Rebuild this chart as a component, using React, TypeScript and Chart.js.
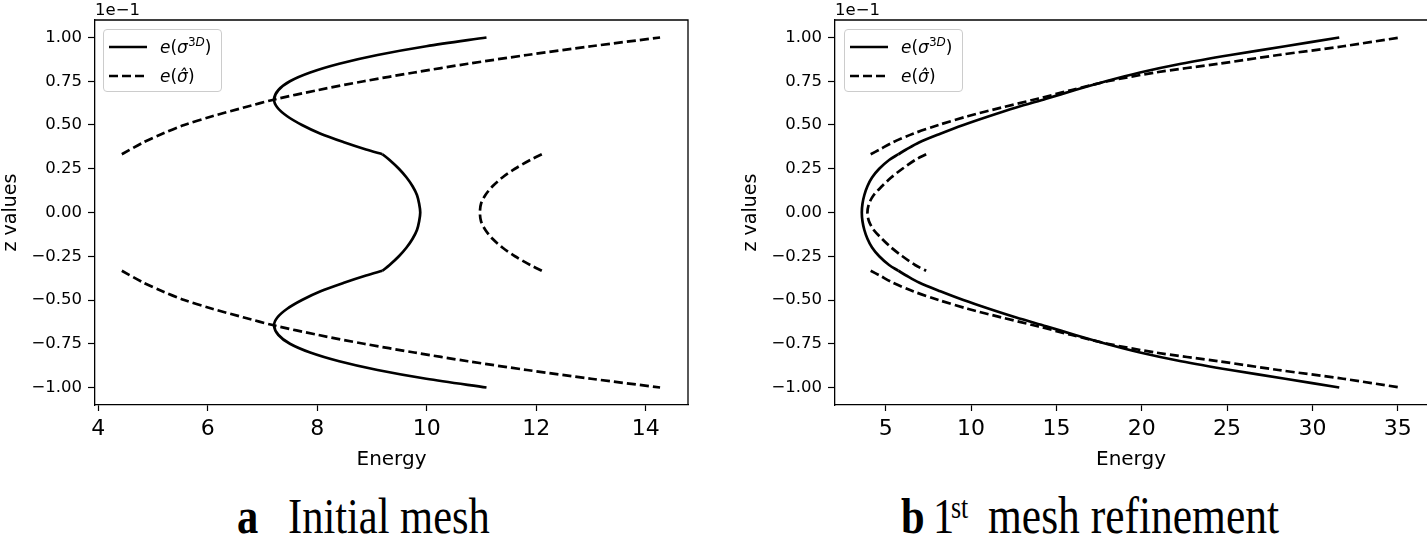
import React, { useEffect, useRef } from 'react';
import { Chart, registerables } from 'chart.js';

Chart.register(...registerables);

// ---------- Panel a: initial mesh (z values in units of 1e-1, Energy) ----------
const aSolidUpperZ = [0.333, 0.36, 0.40, 0.45, 0.50, 0.55, 0.60, 0.646, 0.70, 0.75, 0.80, 0.85, 0.90, 0.95, 1.00];
const aSolidUpperE = [9.19, 8.89, 8.50, 8.06, 7.72, 7.45, 7.27, 7.21, 7.29, 7.50, 7.87, 8.40, 9.10, 9.99, 11.09];
const aSolidMidZ = [0.333, 0.30, 0.25, 0.20, 0.15, 0.10, 0.05, 0, -0.05, -0.10, -0.15, -0.20, -0.25, -0.30, -0.333];
const aSolidMidE = [9.19, 9.32, 9.49, 9.63, 9.74, 9.82, 9.86, 9.88, 9.86, 9.82, 9.74, 9.63, 9.49, 9.32, 9.19];
const aSolidLowerZ = [-0.333, -0.36, -0.40, -0.45, -0.50, -0.55, -0.60, -0.646, -0.70, -0.75, -0.80, -0.85, -0.90, -0.95, -1.00];
const aSolidLowerE = [9.19, 8.89, 8.50, 8.06, 7.72, 7.45, 7.27, 7.21, 7.29, 7.50, 7.87, 8.40, 9.10, 9.99, 11.09];

const aDashUpperZ = [0.333, 0.40, 0.45, 0.50, 0.55, 0.60, 0.646, 0.70, 0.75, 0.80, 0.85, 0.90, 0.95, 1.00];
const aDashUpperE = [4.43, 4.82, 5.17, 5.57, 6.08, 6.66, 7.22, 8.02, 8.85, 9.77, 10.75, 11.83, 13.0, 14.26];
const aDashMidZ = [0.333, 0.30, 0.25, 0.20, 0.15, 0.10, 0.05, 0, -0.05, -0.10, -0.15, -0.20, -0.25, -0.30, -0.333];
const aDashMidE = [12.10, 11.89, 11.61, 11.38, 11.20, 11.07, 10.99, 10.97, 10.99, 11.07, 11.20, 11.38, 11.61, 11.89, 12.10];
const aDashLowerZ = [-0.333, -0.40, -0.45, -0.50, -0.55, -0.60, -0.646, -0.70, -0.75, -0.80, -0.85, -0.90, -0.95, -1.00];
const aDashLowerE = [4.43, 4.82, 5.17, 5.57, 6.08, 6.66, 7.22, 8.02, 8.85, 9.77, 10.75, 11.83, 13.0, 14.26];

// ---------- Panel b: 1st mesh refinement ----------
const bSolidUpperZ = [0.333, 0.36, 0.40, 0.45, 0.50, 0.55, 0.60, 0.65, 0.70, 0.75, 0.80, 0.85, 0.90, 0.95, 1.00];
const bSolidUpperE = [5.74, 6.2, 6.95, 8.2, 9.55, 11.05, 12.65, 14.4, 16.1, 17.9, 19.9, 22.3, 25.2, 28.4, 31.57];
const bSolidMidZ = [0.333, 0.30, 0.25, 0.20, 0.15, 0.10, 0.05, 0, -0.05, -0.10, -0.15, -0.20, -0.25, -0.30, -0.333];
const bSolidMidE = [5.74, 5.2, 4.62, 4.2, 3.93, 3.75, 3.64, 3.6, 3.64, 3.75, 3.93, 4.2, 4.62, 5.2, 5.74];
const bSolidLowerZ = [-0.333, -0.36, -0.40, -0.45, -0.50, -0.55, -0.60, -0.65, -0.70, -0.75, -0.80, -0.85, -0.90, -0.95, -1.00];
const bSolidLowerE = [5.74, 6.2, 6.95, 8.2, 9.55, 11.05, 12.65, 14.4, 16.1, 17.9, 19.9, 22.3, 25.2, 28.4, 31.57];

const bDashUpperZ = [0.333, 0.36, 0.40, 0.45, 0.50, 0.55, 0.60, 0.65, 0.70, 0.75, 0.80, 0.85, 0.90, 0.95, 1.00];
const bDashUpperE = [4.12, 4.65, 5.4, 6.6, 8.1, 9.8, 11.8, 13.9, 15.9, 18.0, 20.8, 24.5, 28.0, 31.8, 35.13];
const bDashMidZ = [0.333, 0.30, 0.25, 0.20, 0.15, 0.10, 0.05, 0, -0.05, -0.10, -0.15, -0.20, -0.25, -0.30, -0.333];
const bDashMidE = [7.37, 6.72, 5.98, 5.32, 4.78, 4.30, 4.02, 3.93, 4.02, 4.30, 4.78, 5.32, 5.98, 6.72, 7.37];
const bDashLowerZ = [-0.333, -0.36, -0.40, -0.45, -0.50, -0.55, -0.60, -0.65, -0.70, -0.75, -0.80, -0.85, -0.90, -0.95, -1.00];
const bDashLowerE = [4.12, 4.65, 5.4, 6.6, 8.1, 9.8, 11.8, 13.9, 15.9, 18.0, 20.8, 24.5, 28.0, 31.8, 35.13];

// ---------- ticks / labels ----------
const yTickValues = [-1.0, -0.75, -0.5, -0.25, 0, 0.25, 0.5, 0.75, 1.0];
const yTickLabels = ['\u22121.00', '\u22120.75', '\u22120.50', '\u22120.25', '0.00', '0.25', '0.50', '0.75', '1.00'];
const xTickValuesA = [4, 6, 8, 10, 12, 14];
const xTickValuesB = [5, 10, 15, 20, 25, 30, 35];
const xLabel = 'Energy';
const yLabel = 'z values';
const offsetLabel = '1e\u22121';

const toPts = (E: number[], Z: number[]) => E.map((e, i) => ({ x: e, y: Z[i] }));

const lineDs = (E: number[], Z: number[], dashed: boolean) => ({
  data: toPts(E, Z),
  showLine: true,
  borderColor: '#000',
  backgroundColor: '#000',
  borderWidth: 2.7,
  borderDash: dashed ? [9, 4] : [],
  borderCapStyle: 'butt',
  borderJoinStyle: 'round',
  pointRadius: 0,
  pointHoverRadius: 0,
  tension: 0.3,
  fill: false,
});

const boxPlugin = {
  id: 'box',
  afterDatasetsDraw(chart: any, _args: any, opts: any) {
    const { ctx, chartArea } = chart;
    const { left, top, right, bottom } = chartArea;
    ctx.save();
    ctx.strokeStyle = '#000';
    ctx.lineWidth = 1.3;
    ctx.beginPath();
    ctx.moveTo(left, top);
    ctx.lineTo(right, top);
    if (opts && opts.right !== false) ctx.lineTo(right, bottom);
    ctx.stroke();
    ctx.restore();
  },
};

function makeConfig(datasets: any[], xMin: number, xMax: number, xTicks: number[], padRight: number, drawRight: boolean, canvasH: number) {
  return {
    type: 'scatter',
    data: { datasets },
    plugins: [boxPlugin],
    options: {
      animation: false,
      responsive: false,
      devicePixelRatio: 1,
      layout: { padding: { top: 20, right: padRight, bottom: 0, left: 0 } },
      plugins: {
        legend: { display: false },
        tooltip: { enabled: false },
        box: { right: drawRight },
      },
      scales: {
        x: {
          type: 'linear',
          min: xMin,
          max: xMax,
          afterBuildTicks: (s: any) => {
            s.ticks = xTicks.map((v) => ({ value: v }));
          },
          afterFit: (s: any) => {
            s.height = canvasH - 405;
          },
          ticks: {
            color: '#000',
            font: { family: 'DejaVu Sans', size: 22 },
            padding: 5,
            maxRotation: 0,
            autoSkip: false,
            callback: (v: any) => String(v),
          },
          grid: { display: true, drawOnChartArea: false, drawTicks: true, tickLength: 6, tickColor: '#000', tickWidth: 1.2 },
          border: { display: true, color: '#000', width: 1.3 },
          title: {
            display: true,
            text: xLabel,
            color: '#000',
            font: { family: 'DejaVu Sans', size: 20, lineHeight: 1.2 },
            padding: { top: 0, bottom: 8 },
          },
        },
        y: {
          type: 'linear',
          min: -1.1,
          max: 1.1,
          afterBuildTicks: (s: any) => {
            s.ticks = yTickValues.map((v) => ({ value: v }));
          },
          afterFit: (s: any) => {
            s.width = 95;
          },
          ticks: {
            color: '#000',
            font: { family: 'DejaVu Sans', size: 16.5 },
            padding: 6,
            autoSkip: false,
            callback: (_v: any, i: number) => yTickLabels[i],
          },
          grid: { display: true, drawOnChartArea: false, drawTicks: true, tickLength: 7, tickColor: '#000', tickWidth: 1.2 },
          border: { display: true, color: '#000', width: 1.3 },
          title: {
            display: true,
            text: yLabel,
            color: '#000',
            font: { family: 'DejaVu Sans', size: 19, lineHeight: 1.2 },
            padding: { top: 0, bottom: 0 },
          },
        },
      },
    },
  };
}

const CANVAS_H = 480;

function Legend({ left }: { left: number }) {
  return (
    <div
      style={{
        position: 'absolute',
        left,
        top: 29,
        width: 119,
        height: 63,
        border: '1px solid #cccccc',
        borderRadius: 4,
        background: 'rgba(255,255,255,0.8)',
        boxSizing: 'border-box',
        fontFamily: '"DejaVu Sans"',
        fontSize: 17,
        color: '#000',
      }}
    >
      <svg style={{ position: 'absolute', left: -1, top: -1 }} width={119} height={63}>
        <line x1={6} y1={18} x2={44} y2={18} stroke="#000" strokeWidth={2.7} />
        <line x1={6} y1={47} x2={44} y2={47} stroke="#000" strokeWidth={2.7} strokeDasharray="9 4" />
      </svg>
      <div style={{ position: 'absolute', left: 56, top: 6, lineHeight: '22px', whiteSpace: 'nowrap' }}>
        <i>e</i>(<i>σ</i>
        <span style={{ fontSize: 12, position: 'relative', top: -7 }}>
          3<i>D</i>
        </span>
        )
      </div>
      <div style={{ position: 'absolute', left: 56, top: 35, lineHeight: '22px', whiteSpace: 'nowrap' }}>
        <i>e</i>(<i>{'σ\u0302'}</i>)
      </div>
    </div>
  );
}

function CapText({ left, text, bold, size, top }: { left: number; text: string; bold?: boolean; size?: number; top?: number }) {
  const fs = size || 42.5;
  return (
    <div
      style={{
        position: 'absolute',
        left,
        top: top === undefined ? 497 : top,
        fontFamily: '"Liberation Serif", "DejaVu Serif", serif',
        fontWeight: bold ? 'bold' : 'normal',
        fontSize: fs,
        lineHeight: '43px',
        whiteSpace: 'nowrap',
        color: '#000',
        transform: 'scaleY(1.2)',
        transformOrigin: '0 36px',
      }}
    >
      {text}
    </div>
  );
}

export default function App() {
  const refA = useRef<HTMLCanvasElement>(null);
  const refB = useRef<HTMLCanvasElement>(null);

  useEffect(() => {
    const dsA = [
      lineDs(aSolidUpperE, aSolidUpperZ, false),
      lineDs(aSolidMidE, aSolidMidZ, false),
      lineDs(aSolidLowerE, aSolidLowerZ, false),
      lineDs(aDashUpperE, aDashUpperZ, true),
      lineDs(aDashMidE, aDashMidZ, true),
      lineDs(aDashLowerE, aDashLowerZ, true),
    ];
    const dsB = [
      lineDs(bSolidUpperE, bSolidUpperZ, false),
      lineDs(bSolidMidE, bSolidMidZ, false),
      lineDs(bSolidLowerE, bSolidLowerZ, false),
      lineDs(bDashUpperE, bDashUpperZ, true),
      lineDs(bDashMidE, bDashMidZ, true),
      lineDs(bDashLowerE, bDashLowerZ, true),
    ];
    const cA = new Chart(refA.current as any, makeConfig(dsA, 3.94, 14.77, xTickValuesA, 12, true, CANVAS_H) as any);
    const cB = new Chart(refB.current as any, makeConfig(dsB, 2.03, 36.71, xTickValuesB, 0, false, CANVAS_H) as any);
    return () => {
      cA.destroy();
      cB.destroy();
    };
  }, []);

  return (
    <div style={{ position: 'fixed', left: 0, top: 0, width: 1427, height: 537, background: '#fff', overflow: 'hidden' }}>
      <canvas ref={refA} width={700} height={CANVAS_H} style={{ position: 'absolute', left: 0, top: 0, width: 700, height: CANVAS_H }} />
      <canvas ref={refB} width={687} height={CANVAS_H} style={{ position: 'absolute', left: 740, top: 0, width: 687, height: CANVAS_H }} />

      <div style={{ position: 'absolute', left: 95, top: 1, fontFamily: '"DejaVu Sans"', fontSize: 16.5, lineHeight: '17px', color: '#000' }}>{offsetLabel}</div>
      <div style={{ position: 'absolute', left: 835, top: 1, fontFamily: '"DejaVu Sans"', fontSize: 16.5, lineHeight: '17px', color: '#000' }}>{offsetLabel}</div>

      <Legend left={103} />
      <Legend left={844} />

      <CapText left={237} text="a" bold />
      <CapText left={288} text="Initial mesh" />
      <CapText left={901} text="b" bold />
      <CapText left={933} text="1" />
      <CapText left={951} text="st" size={26} top={489} />
      <CapText left={988} text="mesh refinement" size={43.5} />
    </div>
  );
}
